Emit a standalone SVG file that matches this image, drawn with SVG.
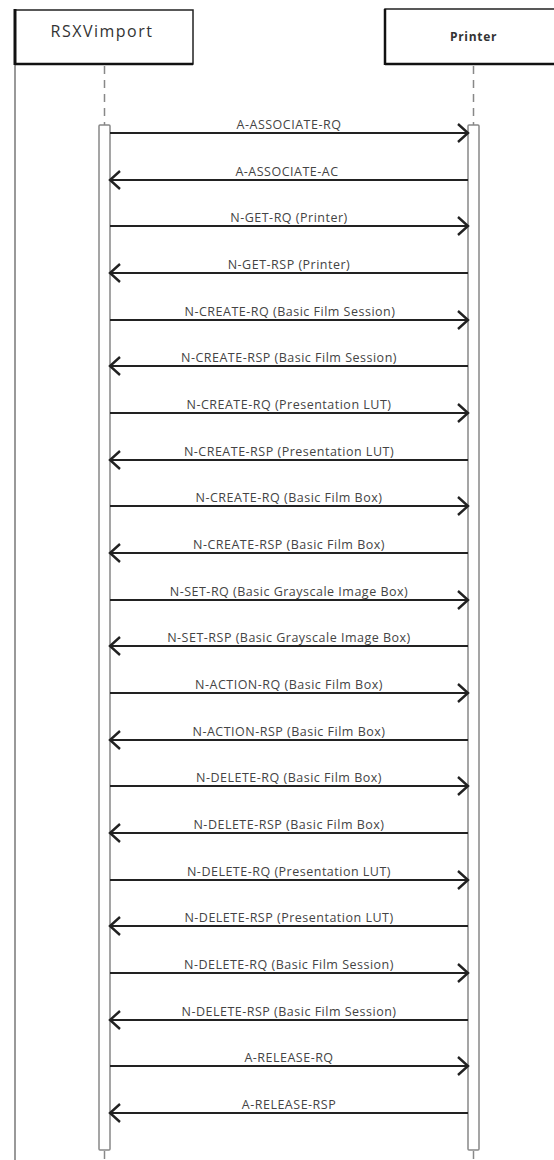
<svg xmlns="http://www.w3.org/2000/svg" width="554" height="1160" viewBox="0 0 554 1160">
<style>
.box{fill:#fff;stroke:#222;stroke-width:1.5}
.edge{stroke:#111;fill:none}
.life{stroke:#888;stroke-width:1.5;stroke-dasharray:8 6;fill:none}
.bar{fill:#fff;stroke:#888;stroke-width:1.5}
.msg{stroke:#222;stroke-width:2;fill:none;marker-end:url(#ah)}
.lbl{font-family:"Open Sans","DejaVu Sans",sans-serif;font-size:12.5px;letter-spacing:0.5px;fill:#444;text-anchor:middle}
.title{font-family:"Open Sans","DejaVu Sans",sans-serif;fill:#333;text-anchor:middle}
</style>
<defs>
<marker id="ah" markerUnits="userSpaceOnUse" markerWidth="14" markerHeight="22" viewBox="-12 -11 14 22" refX="0" refY="0" orient="auto">
<path d="M-10,-9 L0,0 L-10,9" fill="none" stroke="#222" stroke-width="2.4"/>
</marker>
</defs>
<rect width="554" height="1160" fill="#fff"/>
<g id="frame">
<line x1="15" y1="64" x2="15" y2="1160" stroke="#777" stroke-width="1.5"/>
</g>
<g id="RSXVimport">
<rect class="box" x="15" y="10" width="178" height="54"/>
<line class="edge" x1="15" y1="9" x2="15" y2="65" stroke-width="3"/>
<line class="edge" x1="15" y1="64" x2="193" y2="64" stroke-width="2.5"/>
<text class="title" x="102" y="37" font-size="16" letter-spacing="1.5">RSXVimport</text>
<line class="life" x1="104.5" y1="66" x2="104.5" y2="125"/>
<rect class="bar" x="99" y="125" width="11" height="1025" rx="1"/>
<line class="life" x1="104.5" y1="1151" x2="104.5" y2="1160"/>
</g>
<g id="Printer">
<rect class="box" x="385" y="9" width="180" height="55"/>
<line class="edge" x1="385" y1="9" x2="385" y2="65" stroke-width="2.5"/>
<line class="edge" x1="385" y1="64" x2="554" y2="64" stroke-width="2.5"/>
<text class="title" x="473.5" y="41" font-size="12" font-weight="bold" letter-spacing="0.7">Printer</text>
<line class="life" x1="473.5" y1="66" x2="473.5" y2="125"/>
<rect class="bar" x="468" y="125" width="11" height="1025" rx="1"/>
<line class="life" x1="473.5" y1="1151" x2="473.5" y2="1160"/>
</g>
<g id="connectors">
<line class="msg" x1="110" y1="133" x2="468" y2="133"/>
<line class="msg" x1="468" y1="180" x2="110" y2="180"/>
<line class="msg" x1="110" y1="226" x2="468" y2="226"/>
<line class="msg" x1="468" y1="273" x2="110" y2="273"/>
<line class="msg" x1="110" y1="320" x2="468" y2="320"/>
<line class="msg" x1="468" y1="366" x2="110" y2="366"/>
<line class="msg" x1="110" y1="413" x2="468" y2="413"/>
<line class="msg" x1="468" y1="460" x2="110" y2="460"/>
<line class="msg" x1="110" y1="506" x2="468" y2="506"/>
<line class="msg" x1="468" y1="553" x2="110" y2="553"/>
<line class="msg" x1="110" y1="600" x2="468" y2="600"/>
<line class="msg" x1="468" y1="646" x2="110" y2="646"/>
<line class="msg" x1="110" y1="693" x2="468" y2="693"/>
<line class="msg" x1="468" y1="740" x2="110" y2="740"/>
<line class="msg" x1="110" y1="786" x2="468" y2="786"/>
<line class="msg" x1="468" y1="833" x2="110" y2="833"/>
<line class="msg" x1="110" y1="880" x2="468" y2="880"/>
<line class="msg" x1="468" y1="926" x2="110" y2="926"/>
<line class="msg" x1="110" y1="973" x2="468" y2="973"/>
<line class="msg" x1="468" y1="1020" x2="110" y2="1020"/>
<line class="msg" x1="110" y1="1066" x2="468" y2="1066"/>
<line class="msg" x1="468" y1="1113" x2="110" y2="1113"/>
</g>
<g id="labels">
<text class="lbl" x="289" y="129">A-ASSOCIATE-RQ</text>
<text class="lbl" x="287" y="176">A-ASSOCIATE-AC</text>
<text class="lbl" x="289" y="222">N-GET-RQ (Printer)</text>
<text class="lbl" x="289" y="269">N-GET-RSP (Printer)</text>
<text class="lbl" x="290" y="316">N-CREATE-RQ (Basic Film Session)</text>
<text class="lbl" x="289" y="362">N-CREATE-RSP (Basic Film Session)</text>
<text class="lbl" x="289" y="409">N-CREATE-RQ (Presentation LUT)</text>
<text class="lbl" x="289" y="456">N-CREATE-RSP (Presentation LUT)</text>
<text class="lbl" x="289" y="502">N-CREATE-RQ (Basic Film Box)</text>
<text class="lbl" x="289" y="549">N-CREATE-RSP (Basic Film Box)</text>
<text class="lbl" x="289" y="596">N-SET-RQ (Basic Grayscale Image Box)</text>
<text class="lbl" x="289" y="642">N-SET-RSP (Basic Grayscale Image Box)</text>
<text class="lbl" x="289" y="689">N-ACTION-RQ (Basic Film Box)</text>
<text class="lbl" x="289" y="736">N-ACTION-RSP (Basic Film Box)</text>
<text class="lbl" x="289" y="782">N-DELETE-RQ (Basic Film Box)</text>
<text class="lbl" x="289" y="829">N-DELETE-RSP (Basic Film Box)</text>
<text class="lbl" x="289" y="876">N-DELETE-RQ (Presentation LUT)</text>
<text class="lbl" x="289" y="922">N-DELETE-RSP (Presentation LUT)</text>
<text class="lbl" x="289" y="969">N-DELETE-RQ (Basic Film Session)</text>
<text class="lbl" x="289" y="1016">N-DELETE-RSP (Basic Film Session)</text>
<text class="lbl" x="289" y="1062">A-RELEASE-RQ</text>
<text class="lbl" x="289" y="1109">A-RELEASE-RSP</text>
</g>
</svg>
